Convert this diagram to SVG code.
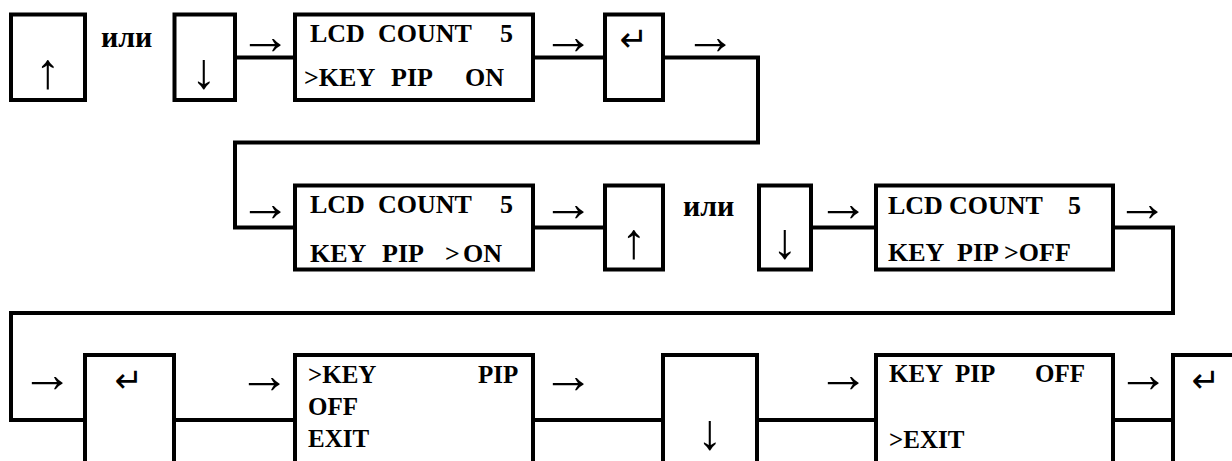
<svg xmlns="http://www.w3.org/2000/svg" width="1232" height="461" viewBox="0 0 1232 461">
<style>
.box{fill:none;stroke:#000;stroke-width:4;stroke-linejoin:miter}
.wire{fill:none;stroke:#000;stroke-width:4;stroke-linejoin:miter}
.t{font-family:"Liberation Serif","Times New Roman",serif;font-weight:bold;font-size:26px;fill:#000}
.t3{font-family:"Liberation Serif","Times New Roman",serif;font-weight:bold;font-size:25px;fill:#000}
.ili{font-family:"Liberation Serif","Times New Roman",serif;font-weight:bold;font-size:30px;fill:#000}
.arr{font-family:"Liberation Serif","DejaVu Serif",serif;font-size:52px;text-anchor:middle;fill:#000}
.key{font-family:"Liberation Serif","DejaVu Serif",serif;font-size:50px;text-anchor:middle;fill:#000}
.ent{font-family:"DejaVu Sans",sans-serif;font-size:34px;text-anchor:middle;fill:#000}
</style>
<rect width="1232" height="461" fill="#fff"/>
<g id="connectors">
<path class="wire" d="M235,57.5 H295"/>
<path class="wire" d="M533,57.5 H605"/>
<path class="wire" d="M663,57.5 H758 V142.5 H235 V227.5 H295"/>
<path class="wire" d="M533,227.5 H605"/>
<path class="wire" d="M811,227.5 H876"/>
<path class="wire" d="M1113,227.5 H1173 V313 H11 V420 H85"/>
<path class="wire" d="M174,420 H295"/>
<path class="wire" d="M533,420 H663"/>
<path class="wire" d="M757,420 H876"/>
<path class="wire" d="M1113,420 H1173"/>
<text class="arr" x="265" y="53.5">→</text>
<text class="arr" x="568" y="53.5">→</text>
<text class="arr" x="710" y="53.5">→</text>
<text class="arr" x="265" y="220.5">→</text>
<text class="arr" x="568" y="220.5">→</text>
<text class="arr" x="843" y="220.5">→</text>
<text class="arr" x="1142" y="220.5">→</text>
<text class="arr" x="47" y="391.5">→</text>
<text class="arr" x="264" y="392.5">→</text>
<text class="arr" x="568" y="392.5">→</text>
<text class="arr" x="843" y="392">→</text>
<text class="arr" x="1143" y="392">→</text>
</g>
<g id="n-up1">
<rect class="box" x="11" y="14.5" width="74" height="85.5"/>
<text class="key" x="48" y="87.5">↑</text>
</g>
<g id="or1">
<text class="ili" x="101" y="47">или</text>
</g>
<g id="n-down1">
<rect class="box" x="174.5" y="14.5" width="60.5" height="85.5"/>
<text class="key" x="204" y="87.5">↓</text>
</g>
<g id="n-lcd1">
<rect class="box" x="295" y="14.5" width="238" height="85.5"/>
<text class="t" y="42"><tspan x="310">LCD</tspan><tspan x="378">COUNT</tspan><tspan x="500">5</tspan></text>
<text class="t" y="86"><tspan x="304">&gt;KEY</tspan><tspan x="391">PIP</tspan><tspan x="465">ON</tspan></text>
</g>
<g id="n-enter1">
<rect class="box" x="605" y="14.5" width="58" height="85.5"/>
<text class="ent" x="634" y="50.5">↵</text>
</g>
<g id="n-lcd2">
<rect class="box" x="295" y="185.5" width="238" height="84"/>
<text class="t" y="213"><tspan x="310">LCD</tspan><tspan x="378">COUNT</tspan><tspan x="500">5</tspan></text>
<text class="t" y="262"><tspan x="310">KEY</tspan><tspan x="382">PIP</tspan><tspan x="445">&gt;</tspan><tspan x="463">ON</tspan></text>
</g>
<g id="n-up2">
<rect class="box" x="605" y="185.5" width="58" height="84"/>
<text class="key" x="634" y="257.5">↑</text>
</g>
<g id="or2">
<text class="ili" x="683" y="216">или</text>
</g>
<g id="n-down2">
<rect class="box" x="759" y="185.5" width="52" height="84"/>
<text class="key" x="785" y="257.5">↓</text>
</g>
<g id="n-lcd3">
<rect class="box" x="876" y="185.5" width="237" height="84"/>
<text class="t" y="214"><tspan x="888">LCD</tspan><tspan x="949">COUNT</tspan><tspan x="1068">5</tspan></text>
<text class="t" y="261"><tspan x="888">KEY</tspan><tspan x="957">PIP</tspan><tspan x="1004">&gt;OFF</tspan></text>
</g>
<g id="n-enter2">
<path class="box" d="M85,463 V355 H174 V463"/>
<text class="ent" x="129" y="392">↵</text>
</g>
<g id="n-menu1">
<path class="box" d="M295,463 V355 H533 V463"/>
<text class="t3" y="383"><tspan x="308">&gt;KEY</tspan><tspan x="478">PIP</tspan></text>
<text class="t3" x="308" y="415">OFF</text>
<text class="t3" x="308" y="447">EXIT</text>
</g>
<g id="n-down3">
<path class="box" d="M663,463 V355 H757 V463"/>
<text class="key" x="710" y="449">↓</text>
</g>
<g id="n-menu2">
<path class="box" d="M876,463 V355 H1113 V463"/>
<text class="t3" y="382"><tspan x="889">KEY</tspan><tspan x="955">PIP</tspan><tspan x="1035">OFF</tspan></text>
<text class="t3" x="889" y="448">&gt;EXIT</text>
</g>
<g id="n-enter3">
<path class="box" d="M1173,463 V355 H1240"/>
<text class="ent" x="1206" y="392">↵</text>
</g>
</svg>
